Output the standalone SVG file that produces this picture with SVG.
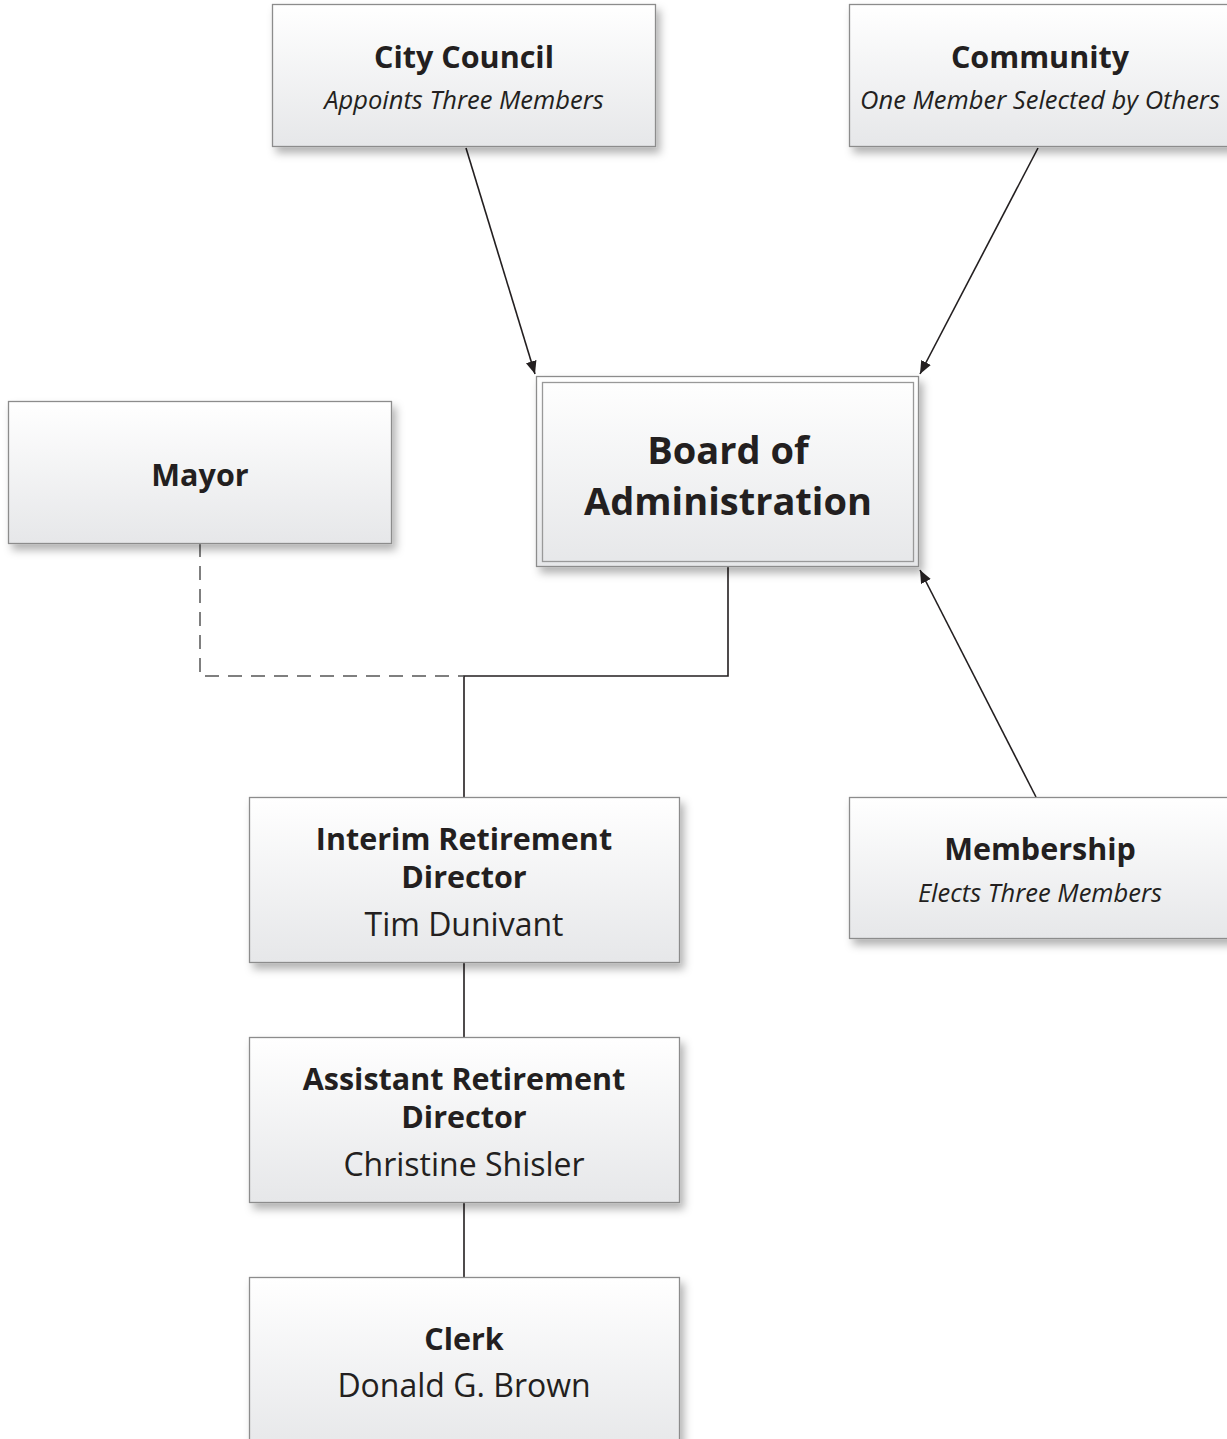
<svg xmlns="http://www.w3.org/2000/svg" width="1227" height="1439" viewBox="0 0 1227 1439">
<style>
.box{fill:url(#g);stroke:#8c8c8c;stroke-width:1.3}
.t{font-family:"Open Sans","Liberation Sans",sans-serif;fill:#231f20;text-anchor:middle}
.b{font-weight:bold;font-size:30.5px}
.i{font-style:italic;font-size:25.5px}
.r{font-size:32px}
.ln{fill:none;stroke:#231f20;stroke-width:1.6}
.dash{fill:none;stroke:#555;stroke-width:1.5;stroke-dasharray:14 9}
</style>
<defs>
<linearGradient id="g" x1="0" y1="0" x2="0" y2="1">
<stop offset="0" stop-color="#ffffff"/>
<stop offset="1" stop-color="#e6e7e9"/>
</linearGradient>
<filter id="sh" x="-10%" y="-10%" width="125%" height="135%">
<feDropShadow dx="4" dy="6" stdDeviation="4" flood-color="#000" flood-opacity="0.3"/>
</filter>
<marker id="ah" viewBox="0 0 12 10" refX="12" refY="5" markerWidth="13" markerHeight="11" markerUnits="userSpaceOnUse" orient="auto">
<path d="M0,0 L12,5 L0,10 z" fill="#231f20"/>
</marker>
</defs>

<g id="connectors">
<line class="ln" x1="466" y1="148" x2="535" y2="374" marker-end="url(#ah)"/>
<line class="ln" x1="1038" y1="148" x2="920" y2="374" marker-end="url(#ah)"/>
<line class="ln" x1="1036" y1="797" x2="920" y2="570" marker-end="url(#ah)"/>
<polyline class="ln" points="728,567 728,676 464,676 464,797"/>
<polyline class="dash" points="200,543 200,676 464,676"/>
<line class="ln" x1="464" y1="963" x2="464" y2="1037"/>
<line class="ln" x1="464" y1="1203" x2="464" y2="1277"/>
</g>

<g id="city-council">
<rect class="box" x="272.5" y="4.5" width="383" height="142" filter="url(#sh)"/>
<text class="t b" x="464" y="68">City Council</text>
<text class="t i" x="464" y="109">Appoints Three Members</text>
</g>

<g id="community">
<rect class="box" x="849.5" y="4.5" width="385" height="142" filter="url(#sh)"/>
<text class="t b" x="1040" y="68">Community</text>
<text class="t i" x="1040" y="109">One Member Selected by Others</text>
</g>

<g id="board">
<rect class="box" x="536.5" y="376.5" width="382" height="190" filter="url(#sh)"/>
<rect x="542.5" y="382.5" width="371" height="179" fill="none" stroke="#999" stroke-width="1.3"/>
<text class="t" font-weight="bold" font-size="38" x="728" y="464">Board of</text>
<text class="t" font-weight="bold" font-size="38" x="728" y="515">Administration</text>
</g>

<g id="mayor">
<rect class="box" x="8.5" y="401.5" width="383" height="142" filter="url(#sh)"/>
<text class="t b" x="200" y="486">Mayor</text>
</g>

<g id="interim-director">
<rect class="box" x="249.5" y="797.5" width="430" height="165" filter="url(#sh)"/>
<text class="t b" x="464" y="850">Interim Retirement</text>
<text class="t b" x="464" y="888">Director</text>
<text class="t r" x="464" y="936">Tim Dunivant</text>
</g>

<g id="membership">
<rect class="box" x="849.5" y="797.5" width="385" height="141" filter="url(#sh)"/>
<text class="t b" x="1040" y="860">Membership</text>
<text class="t i" x="1040" y="902">Elects Three Members</text>
</g>

<g id="assistant-director">
<rect class="box" x="249.5" y="1037.5" width="430" height="165" filter="url(#sh)"/>
<text class="t b" x="464" y="1090">Assistant Retirement</text>
<text class="t b" x="464" y="1128">Director</text>
<text class="t r" x="464" y="1176">Christine Shisler</text>
</g>

<g id="clerk">
<rect class="box" x="249.5" y="1277.5" width="430" height="175" filter="url(#sh)"/>
<text class="t b" x="464" y="1350">Clerk</text>
<text class="t r" x="464" y="1397">Donald G. Brown</text>
</g>
</svg>
